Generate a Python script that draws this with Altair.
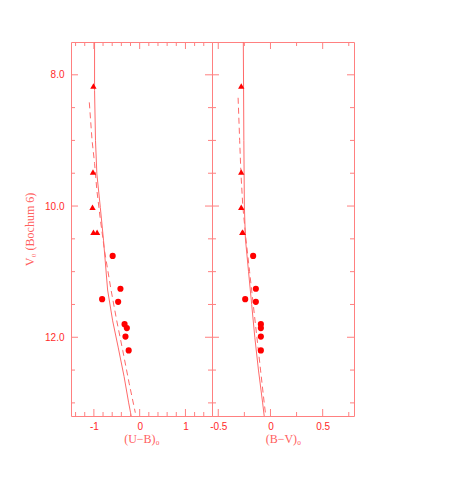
import altair as alt
import pandas as pd

# ---------------- data ----------------
# triangles
V_tri = [8.17, 9.48, 10.02, 10.40, 10.40]
UB_tri = [-1.01, -1.02, -1.03, -1.01, -0.93]
BV_tri = [-0.28, -0.28, -0.28, -0.27, -0.265]

# filled circles
V_dot = [10.76, 11.26, 11.42, 11.46, 11.80, 11.86, 11.99, 12.20]
UB_dot = [-0.59, -0.42, -0.82, -0.47, -0.33, -0.28, -0.31, -0.24]
BV_dot = [-0.166, -0.14, -0.242, -0.14, -0.092, -0.092, -0.092, -0.092]

# solid curve, (U-B)
V_sol_ub = [7.5, 8.24, 9.0, 9.51, 10.02, 10.52, 11.28, 11.75, 12.15, 12.6, 13.0, 13.2]
UB_sol = [-0.985, -0.985, -0.965, -0.935, -0.86, -0.79, -0.70, -0.59, -0.47, -0.34, -0.24, -0.185]
# dashed curve, (U-B)
V_das_ub = [8.42, 9.0, 9.35, 9.76, 10.17, 10.67, 11.28, 11.75, 12.2, 12.7, 13.15]
UB_das = [-1.10, -1.04, -0.985, -0.935, -0.865, -0.77, -0.625, -0.50, -0.37, -0.23, -0.095]

# solid curve, (B-V)
V_sol_bv = [7.5, 9.0, 10.0, 10.5, 11.0, 11.5, 12.0, 12.5, 13.0, 13.2]
BV_sol = [-0.26, -0.255, -0.25, -0.24, -0.21, -0.18, -0.15, -0.115, -0.075, -0.06]
# dashed curve, (B-V)
V_das_bv = [8.35, 9.0, 9.5, 10.0, 10.5, 11.0, 11.5, 12.0, 12.5, 13.0, 13.2]
BV_das = [-0.31, -0.295, -0.283, -0.265, -0.235, -0.20, -0.165, -0.13, -0.095, -0.06, -0.045]

# axis ticks
V_major = [8, 10, 12]
V_minor = [8.5, 9, 9.5, 10.5, 11, 11.5, 12.5, 13]
UB_major = [-1, 0, 1]
UB_minor = [-1.4, -1.2, -0.8, -0.6, -0.4, -0.2, 0.2, 0.4, 0.6, 0.8, 1.2, 1.4]
BV_major = [-0.5, 0, 0.5]
BV_minor = [-0.25, 0.25, 0.75]

V_domain = [7.5, 13.2]
UB_domain = [-1.5, 1.58]
BV_domain = [-0.56, 0.8]

W_L, W_R, H = 141, 142, 374
RED = "#ff0000"
LINE = "#ff6a6a"
FRAME = "#ff8080"
LABEL = "#ff2a2a"
TITLE = "#ff6060"


def panel(xs_tri, xs_dot, v_sol, x_sol, v_das, x_das, x_major, x_minor,
          x_domain, x_title, width, show_y):
    xscale = alt.Scale(domain=x_domain, nice=False, zero=False)
    yscale = alt.Scale(domain=V_domain, nice=False, zero=False, reverse=True)
    xaxis = alt.Axis(values=x_major, title=x_title, labelExpr="'' + datum.value",
                     grid=False, ticks=False, tickSize=0, domain=False,
                     labelFont="Liberation Sans", labelFontSize=10, labelColor=LABEL,
                     labelPadding=5, titleFont="Liberation Serif", titleFontSize=12,
                     titleFontWeight="normal", titleColor=TITLE, titlePadding=2)
    if show_y:
        yaxis = alt.Axis(values=V_major, title="V\u2080 (Bochum 6)", format=".1f",
                         grid=False, ticks=False, tickSize=0, domain=False,
                         labelFont="Liberation Sans", labelFontSize=10, labelColor=LABEL,
                         labelPadding=7, titleFont="Liberation Serif", titleFontSize=12,
                         titleFontWeight="normal", titleColor=TITLE, titlePadding=8)
    else:
        yaxis = None
    X = alt.X("x:Q", scale=xscale, axis=xaxis)
    Y = alt.Y("V:Q", scale=yscale, axis=yaxis)

    sol = pd.DataFrame({"x": x_sol, "V": v_sol})
    das = pd.DataFrame({"x": x_das, "V": v_das})
    tri = pd.DataFrame({"x": xs_tri, "V": V_tri})
    dot = pd.DataFrame({"x": xs_dot, "V": V_dot})

    l_sol = alt.Chart(sol).mark_line(color=LINE, strokeWidth=1).encode(
        x=X, y=Y, order="V:Q")
    l_das = alt.Chart(das).mark_line(color=LINE, strokeWidth=1, strokeDash=[6, 4]).encode(
        x=X, y=Y, order="V:Q")
    p_tri = alt.Chart(tri).mark_point(shape="triangle-up", filled=True, color=RED,
                                      opacity=1, size=40).encode(x=X, y=Y)
    p_dot = alt.Chart(dot).mark_circle(color=RED, opacity=1, size=38).encode(x=X, y=Y)

    layers = [l_sol, l_das, p_tri, p_dot]
    # inward ticks on all four sides
    for vals, ln in ((V_major, 7), (V_minor, 4)):
        d = pd.DataFrame({"V": vals})
        layers.append(alt.Chart(d).mark_rule(color=FRAME, strokeWidth=1).encode(
            y=Y, x=alt.value(0), x2=alt.value(ln)))
        layers.append(alt.Chart(d).mark_rule(color=FRAME, strokeWidth=1).encode(
            y=Y, x=alt.value(width), x2=alt.value(width - ln)))
    for vals, ln in ((x_major, 7), (x_minor, 4)):
        d = pd.DataFrame({"x": vals})
        layers.append(alt.Chart(d).mark_rule(color=FRAME, strokeWidth=1).encode(
            x=X, y=alt.value(H), y2=alt.value(H - ln)))
        layers.append(alt.Chart(d).mark_rule(color=FRAME, strokeWidth=1).encode(
            x=X, y=alt.value(0), y2=alt.value(ln)))
    return alt.layer(*layers).properties(width=width, height=H)


left = panel(UB_tri, UB_dot, V_sol_ub, UB_sol, V_das_ub, UB_das, UB_major, UB_minor,
             UB_domain, "(U\u2212B)\u2080", W_L, True)
right = panel(BV_tri, BV_dot, V_sol_bv, BV_sol, V_das_bv, BV_das, BV_major, BV_minor,
              BV_domain, "(B\u2212V)\u2080", W_R, False)

chart = alt.hconcat(left, right, spacing=0, bounds="flush").properties(
    padding={"left": 15, "top": 31, "right": 5, "bottom": 5},
    background="white",
).configure_view(stroke=FRAME, strokeWidth=1)

chart.save("out.html", embed_options={"renderer": "svg", "actions": False})
